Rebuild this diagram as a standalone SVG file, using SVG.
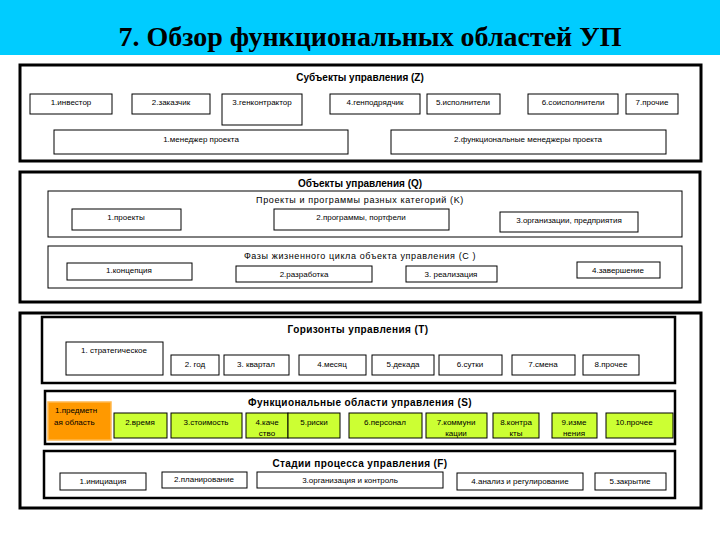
<svg xmlns="http://www.w3.org/2000/svg" width="720" height="540" viewBox="0 0 720 540">
<style>
.outer{fill:none;stroke:#000;stroke-width:3}
.inner{fill:none;stroke:#000;stroke-width:1}
.innerT{fill:none;stroke:#000;stroke-width:2.5}
.b{fill:#fff;stroke:#000;stroke-width:1}
.g{fill:#ccff33;stroke:#000;stroke-width:1}
.o{fill:#ff9900;stroke:#ffb84d;stroke-width:1.5}
text{font-family:"Liberation Sans",Arial,sans-serif;fill:#000}
text.title{font-family:"Liberation Serif","Times New Roman",serif;font-size:27px;font-weight:bold;text-anchor:middle}
.t{font-size:8px;text-anchor:middle}
.h{font-size:10px;font-weight:bold;text-anchor:middle}
.s{font-size:9px;text-anchor:middle;letter-spacing:0.6px}
</style>
<rect x="0" y="0" width="720" height="55" fill="#00ccff"/>
<text class="title" x="370" y="46" textLength="503" lengthAdjust="spacingAndGlyphs">7. Обзор функциональных областей УП</text>

<g id="sec-Z">
<rect class="outer" x="20" y="65" width="681" height="96"/>
<text class="h" x="360" y="81">Субъекты управления (Z)</text>
<g id="z1"><rect class="b" x="30" y="94" width="82" height="20"/><text class="t" x="71" y="105">1.инвестор</text></g>
<g id="z2"><rect class="b" x="132" y="94" width="78" height="20"/><text class="t" x="171" y="105">2.заказчик</text></g>
<g id="z3"><rect class="b" x="222" y="94" width="80" height="31"/><text class="t" x="262" y="105">3.генконтрактор</text></g>
<g id="z4"><rect class="b" x="330" y="94" width="90" height="20"/><text class="t" x="375" y="105">4.генподрядчик</text></g>
<g id="z5"><rect class="b" x="427" y="94" width="73" height="20"/><text class="t" x="463" y="105">5.исполнители</text></g>
<g id="z6"><rect class="b" x="528" y="94" width="90" height="20"/><text class="t" x="573" y="105">6.соисполнители</text></g>
<g id="z7"><rect class="b" x="626" y="94" width="52" height="20"/><text class="t" x="652" y="105">7.прочие</text></g>
<g id="z8"><rect class="b" x="54" y="130" width="294" height="24"/><text class="t" x="201" y="142">1.менеджер проекта</text></g>
<g id="z9"><rect class="b" x="391" y="130" width="275" height="24"/><text class="t" x="528" y="142">2.функциональные менеджеры проекта</text></g>
</g>

<g id="sec-Q">
<rect class="outer" x="20" y="172" width="680" height="130"/>
<text class="h" x="360" y="187">Объекты управления (Q)</text>
<g id="K">
<rect class="inner" x="48" y="191" width="634" height="46"/>
<text class="s" x="360" y="203">Проекты и программы разных категорий (K)</text>
<g id="k1"><rect class="b" x="72" y="209" width="109" height="21"/><text class="t" x="126" y="220">1.проекты</text></g>
<g id="k2"><rect class="b" x="274" y="209" width="175" height="21"/><text class="t" x="361" y="220">2.программы, портфели</text></g>
<g id="k3"><rect class="b" x="500" y="212" width="138" height="20"/><text class="t" x="569" y="223">3.организации, предприятия</text></g>
</g>
<g id="C">
<rect class="inner" x="48" y="246" width="634" height="42"/>
<text class="s" x="360" y="259">Фазы жизненного цикла объекта управления (С )</text>
<g id="c1"><rect class="b" x="67" y="263" width="125" height="17"/><text class="t" x="129" y="273">1.концепция</text></g>
<g id="c2"><rect class="b" x="236" y="266" width="136" height="16"/><text class="t" x="304" y="277">2.разработка</text></g>
<g id="c3"><rect class="b" x="406" y="266" width="91" height="16"/><text class="t" x="451" y="277">3. реализация</text></g>
<g id="c4"><rect class="b" x="577" y="262" width="83" height="16"/><text class="t" x="618" y="273">4.завершение</text></g>
</g>
</g>

<g id="sec-3">
<rect class="outer" x="20" y="313" width="681" height="195"/>
<g id="T">
<rect class="innerT" x="42" y="317" width="633" height="66"/>
<text class="h" x="358" y="333" letter-spacing="0.4">Горизонты управления (T)</text>
<g id="t1"><rect class="b" x="66" y="342" width="97" height="33"/><text class="t" x="114" y="353">1. стратегическое</text></g>
<g id="t2"><rect class="b" x="171" y="355" width="48" height="20"/><text class="t" x="195" y="367">2. год</text></g>
<g id="t3"><rect class="b" x="224" y="355" width="65" height="20"/><text class="t" x="256" y="367">3. квартал</text></g>
<g id="t4"><rect class="b" x="299" y="355" width="67" height="20"/><text class="t" x="332" y="367">4.месяц</text></g>
<g id="t5"><rect class="b" x="372" y="355" width="62" height="20"/><text class="t" x="403" y="367">5.декада</text></g>
<g id="t6"><rect class="b" x="439" y="355" width="63" height="20"/><text class="t" x="470" y="367">6.сутки</text></g>
<g id="t7"><rect class="b" x="512" y="355" width="63" height="20"/><text class="t" x="543" y="367">7.смена</text></g>
<g id="t8"><rect class="b" x="583" y="355" width="56" height="20"/><text class="t" x="611" y="367">8.прочее</text></g>
</g>
<g id="S">
<rect class="innerT" x="45" y="391" width="630" height="53"/>
<text class="h" x="360" y="406" letter-spacing="0.4">Функциональные области управления (S)</text>
<g id="s1"><rect class="o" x="48" y="402" width="63" height="38"/><text font-size="8" x="55" y="413">1.предметн</text><text font-size="8" x="54" y="425">ая область</text></g>
<g id="s2"><rect class="g" x="114" y="413" width="53" height="25"/><text class="t" x="140" y="425">2.время</text></g>
<g id="s3"><rect class="g" x="171" y="413" width="71" height="25"/><text class="t" x="206" y="425">3.стоимость</text></g>
<g id="s4"><rect class="g" x="246" y="413" width="42" height="25"/><text class="t" x="267" y="425">4.каче</text><text class="t" x="267" y="436">ство</text></g>
<g id="s5"><rect class="g" x="288" y="413" width="52" height="25"/><text class="t" x="314" y="425">5.риски</text></g>
<g id="s6"><rect class="g" x="349" y="413" width="73" height="25"/><text class="t" x="385" y="425">6.персонал</text></g>
<g id="s7"><rect class="g" x="426" y="413" width="61" height="25"/><text class="t" x="456" y="425">7.коммуни</text><text class="t" x="456" y="436">кации</text></g>
<g id="s8"><rect class="g" x="493" y="413" width="46" height="25"/><text class="t" x="516" y="425">8.контра</text><text class="t" x="516" y="436">кты</text></g>
<g id="s9"><rect class="g" x="552" y="413" width="45" height="25"/><text class="t" x="574" y="425">9.изме</text><text class="t" x="574" y="436">нения</text></g>
<g id="s10"><rect class="g" x="606" y="413" width="67" height="25"/><text class="t" x="634" y="425">10.прочее</text></g>
</g>
<g id="F">
<rect class="innerT" x="44" y="451" width="631" height="47"/>
<text class="h" x="360" y="467" letter-spacing="0.4">Стадии процесса управления (F)</text>
<g id="f1"><rect class="b" x="60" y="473" width="86" height="17"/><text class="t" x="103" y="484">1.инициация</text></g>
<g id="f2"><rect class="b" x="162" y="472" width="85" height="16"/><text class="t" x="204" y="482">2.планирование</text></g>
<g id="f3"><rect class="b" x="257" y="472" width="186" height="16"/><text class="t" x="350" y="483">3.организация и контроль</text></g>
<g id="f4"><rect class="b" x="457" y="473" width="126" height="17"/><text class="t" x="520" y="484">4.анализ и регулирование</text></g>
<g id="f5"><rect class="b" x="595" y="473" width="71" height="17"/><text class="t" x="630" y="484">5.закрытие</text></g>
</g>
</g>
<g id="connectors"/>
</svg>
